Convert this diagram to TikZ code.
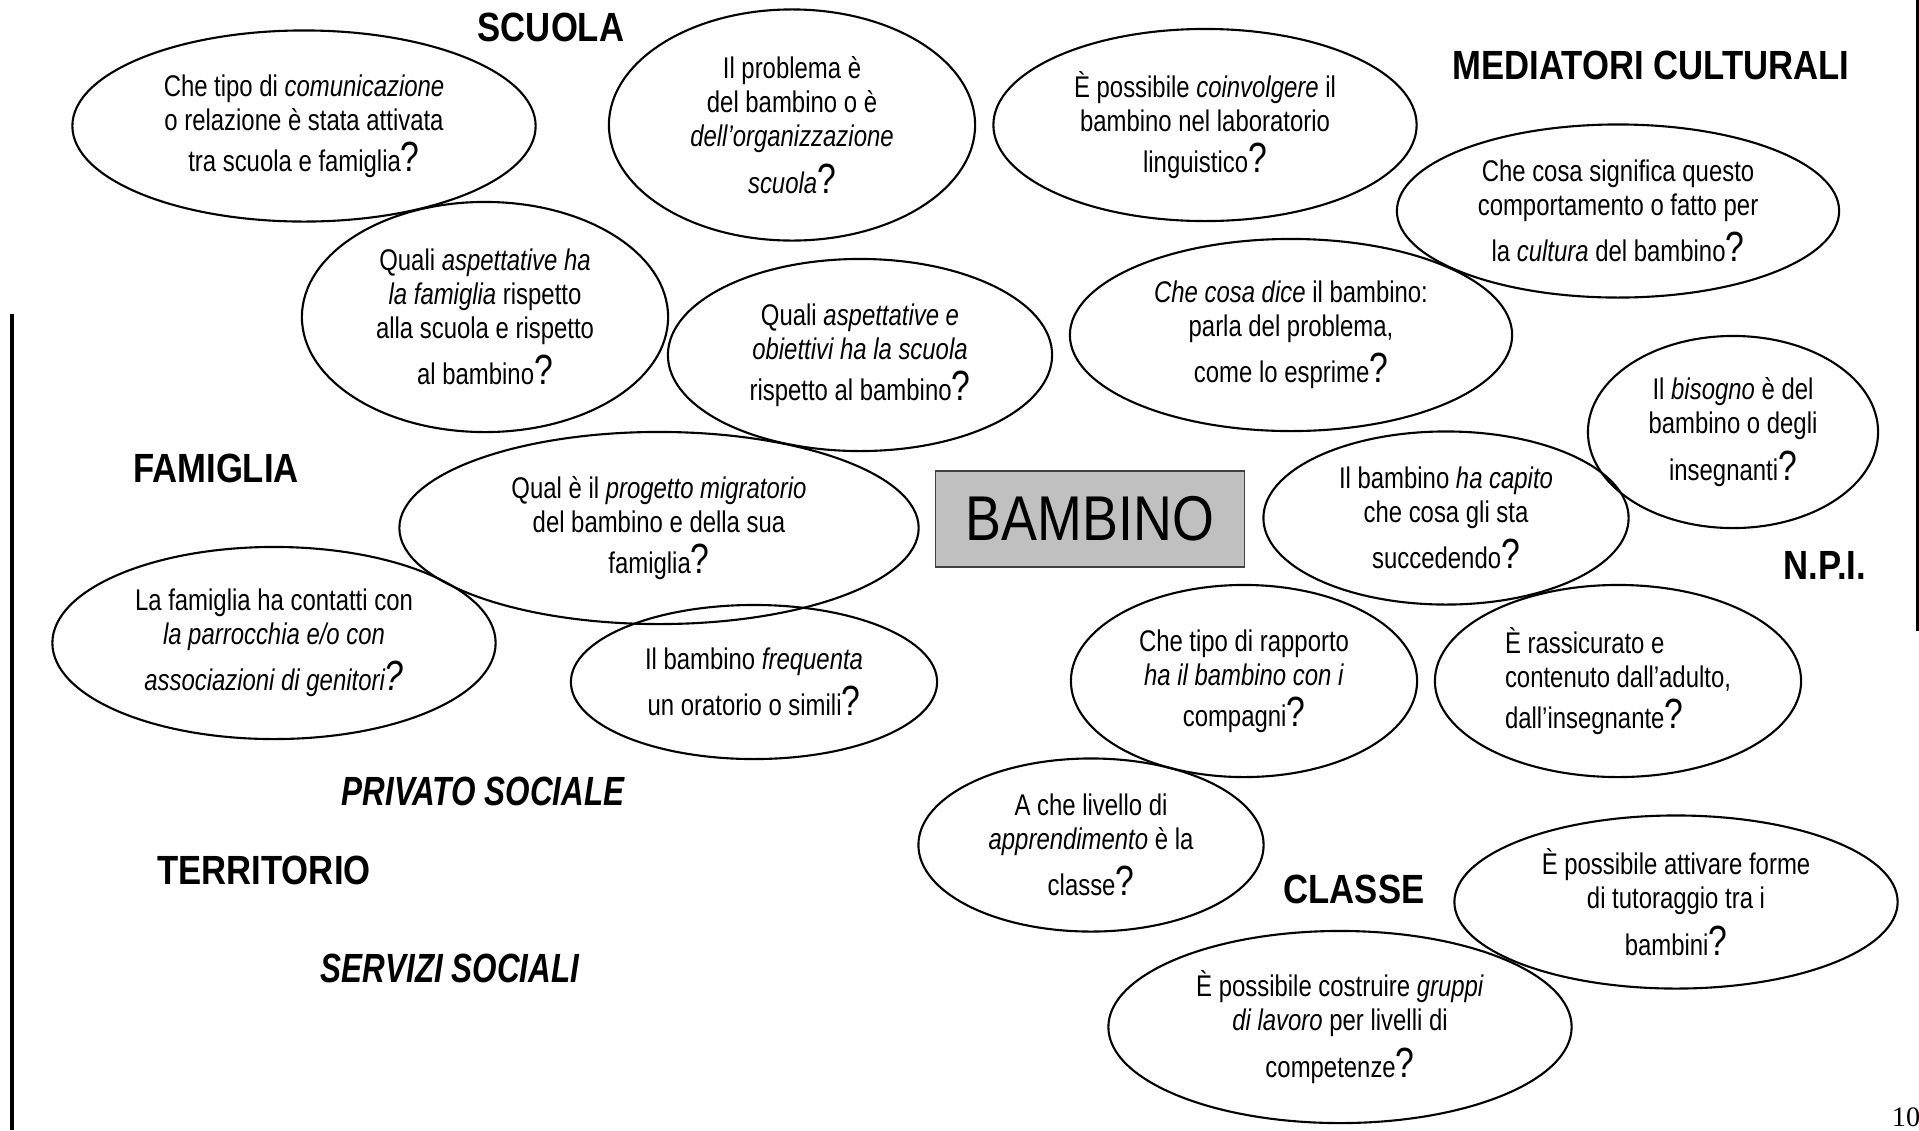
\documentclass[tikz,border=0pt]{standalone}
\usepackage{fontspec}
\setmainfont{Liberation Sans}[FakeStretch=0.85]
\newfontfamily\qfont{Liberation Sans}[FakeStretch=0.80]
\newfontfamily\areaitfont{Liberation Sans}[FakeStretch=0.77]
\newfontfamily\pnfont{Liberation Serif}
\usetikzlibrary{shapes.geometric}
\definecolor{boxgray}{RGB}{192,192,192}
\newcommand{\qm}{{\fontsize{12}{12}\selectfont ?}}
\tikzset{
  bubble/.style={ellipse, draw, line width=0.6pt, inner sep=0pt,
                 align=center, font=\qfont\fontsize{8.5}{9.7}\selectfont},
  area/.style={inner sep=0pt, font=\fontsize{11.6}{14}\selectfont\bfseries},
  areait/.style={area, font=\areaitfont\fontsize{11.6}{14}\selectfont\bfseries\itshape},
  core/.style={rectangle, draw=black!75, fill=boxgray, line width=0.5pt,
               minimum width=3.09cm, minimum height=0.96cm,
               font=\fontsize{18}{20}\selectfont},
  rule/.style={line width=1pt},
}
\begin{document}
\begin{tikzpicture}[x=0.01cm, y=-0.01cm]
  \useasboundingbox (0,0) rectangle (1919,1130);

  % areas
  \node[area]   (scuola)     at (551,27)   {SCUOLA};
  \node[area]   (mediatori)  at (1651,65)  {MEDIATORI CULTURALI};
  \node[area]   (famiglia)   at (216,468)  {FAMIGLIA};
  \node[area]   (npi)        at (1825,565) {N.P.I.};
  \node[areait] (privato)    at (483,791)  {PRIVATO SOCIALE};
  \node[area]   (territorio) at (264,870)  {TERRITORIO};
  \node[areait] (servizi)    at (450,968)  {SERVIZI SOCIALI};
  \node[area]   (classe)     at (1354,889) {CLASSE};

  % centre
  \node[core] (bambino) at (1090,519) {BAMBINO};

  % questions
  \node[bubble, minimum width=4.63cm, minimum height=1.91cm] (comunic) at (304,126)
    {Che tipo di \textit{comunicazione}\\ o relazione è stata attivata\\[2pt] tra scuola e famiglia\qm};
  \node[bubble, minimum width=3.66cm, minimum height=2.31cm] (problema) at (792,125)
    {Il problema è\\ del bambino o è\\ \textit{dell’organizzazione}\\[2pt] \textit{scuola}\qm};
  \node[bubble, minimum width=4.23cm, minimum height=1.92cm] (coinvolg) at (1205,125)
    {È possibile \textit{coinvolgere} il\\ bambino nel laboratorio\\[2pt] linguistico\qm};
  \node[bubble, minimum width=4.42cm, minimum height=1.73cm] (cultura) at (1618,211)
    {Che cosa significa questo\\ comportamento o fatto per\\[2pt] la \textit{cultura} del bambino\qm};
  \node[bubble, minimum width=3.66cm, minimum height=2.30cm] (aspfam) at (485,317)
    {Quali \textit{aspettative ha}\\ \textit{la famiglia} rispetto\\ alla scuola e rispetto\\[2pt] al bambino\qm};
  \node[bubble, minimum width=3.84cm, minimum height=1.92cm] (aspscuola) at (860,355)
    {Quali \textit{aspettative e}\\ \textit{obiettivi ha la scuola}\\[2pt] rispetto al bambino\qm};
  \node[bubble, minimum width=4.42cm, minimum height=1.92cm] (dice) at (1291,335)
    {\textit{Che cosa dice} il bambino:\\ parla del problema,\\[2pt] come lo esprime\qm};
  \node[bubble, minimum width=2.90cm, minimum height=1.92cm] (bisogno) at (1733,432)
    {Il \textit{bisogno} è del\\ bambino o degli\\[2pt] insegnanti\qm};
  \node[bubble, minimum width=5.19cm, minimum height=1.92cm] (progetto) at (659,528)
    {Qual è il \textit{progetto migratorio}\\ del bambino e della sua\\[2pt] famiglia\qm};
  \node[bubble, minimum width=3.65cm, minimum height=1.73cm] (capito) at (1446,518)
    {Il bambino \textit{ha capito}\\ che cosa gli sta\\[2pt] succedendo\qm};
  \node[bubble, minimum width=4.43cm, minimum height=1.92cm] (parrocchia) at (274,643)
    {La famiglia ha contatti con\\ \textit{la parrocchia e/o con}\\[2pt] \textit{associazioni di genitori\qm}};
  \node[bubble, minimum width=3.66cm, minimum height=1.54cm] (oratorio) at (754,682)
    {Il bambino \textit{frequenta}\\[2pt] un oratorio o simili\qm};
  \node[bubble, minimum width=3.46cm, minimum height=1.92cm] (rapporto) at (1244,681)
    {Che tipo di rapporto\\ \textit{ha il bambino con i}\\[2pt] compagni\qm};
  \node[bubble, align=left, minimum width=3.66cm, minimum height=1.92cm] (rassic) at (1618,681)
    {È rassicurato e\\ contenuto dall’adulto,\\[2pt] dall’insegnante\qm};
  \node[bubble, minimum width=3.45cm, minimum height=1.73cm] (livello) at (1091,845)
    {A che livello di\\ \textit{apprendimento} è la\\[2pt] classe\qm};
  \node[bubble, minimum width=4.43cm, minimum height=1.73cm] (tutor) at (1676,902)
    {È possibile attivare forme\\ di tutoraggio tra i\\[2pt] bambini\qm};
  \node[bubble, minimum width=4.63cm, minimum height=1.92cm] (gruppi) at (1340,1027)
    {È possibile costruire \textit{gruppi}\\ \textit{di lavoro} per livelli di\\[2pt] competenze\qm};

  % page rules and number
  \draw[rule] (12,314) -- (12,1130);
  \draw[rule] (1917.5,0) -- (1917.5,631);
  \node[font=\pnfont\fontsize{8}{9}\selectfont, inner sep=0pt] (pagenum) at (1906,1117) {10};
\end{tikzpicture}
\end{document}
